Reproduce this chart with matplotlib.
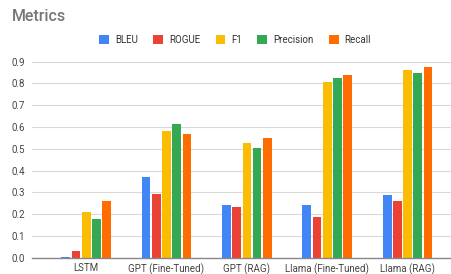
import numpy as np
import matplotlib.pyplot as plt

categories = ['LSTM', 'GPT (Fine-Tuned)', 'GPT (RAG)', 'Llama (Fine-Tuned)', 'Llama (RAG)']
bleu = [0.005, 0.369, 0.240, 0.240, 0.288]
rogue = [0.031, 0.292, 0.234, 0.185, 0.260]
f1 = [0.208, 0.584, 0.527, 0.809, 0.861]
precision = [0.178, 0.616, 0.506, 0.827, 0.850]
recall = [0.259, 0.569, 0.550, 0.838, 0.876]

series = ['BLEU', 'ROGUE', 'F1', 'Precision', 'Recall']
colors = ['#4285F4', '#EA4335', '#FBBC04', '#34A853', '#FF6D01']
yticks = [0.0, 0.1, 0.2, 0.3, 0.4, 0.5, 0.6, 0.7, 0.8, 0.9]

plt.rcParams['font.family'] = ['Roboto', 'DejaVu Sans']

fig = plt.figure(figsize=(4.52, 2.74), dpi=100)
ax = fig.add_axes([0.0708, 0.0595, 0.927, 0.7153])

x = np.arange(len(categories))
pitch = 0.127
width = 0.108
for i, (name, vals) in enumerate(zip(series, [bleu, rogue, f1, precision, recall])):
    ax.bar(x + (i - 2) * pitch, vals, width, color=colors[i], label=name, zorder=3)

ax.set_xlim(-0.674, 4.54)
ax.set_ylim(0, 0.9)
ax.set_yticks(yticks)
ax.set_yticklabels([f'{v:.1f}' for v in yticks])
ax.set_xticks(x)
ax.set_xticklabels(categories)
ax.tick_params(axis='both', length=0, labelsize=7, colors='#444444')
ax.tick_params(axis='y', pad=5)
ax.tick_params(axis='x', pad=4)
ax.grid(axis='y', color='#d9d9d9', linewidth=0.8, zorder=0)
for s in ['top', 'right', 'left']:
    ax.spines[s].set_visible(False)
ax.spines['bottom'].set_color('#888888')
ax.spines['bottom'].set_linewidth(1.0)
ax.spines['bottom'].set_zorder(4)

fig.text(0.026, 0.94, 'Metrics', fontsize=11.5, color='#757575', fontweight='medium', va='center')
fig.legend(loc='center', bbox_to_anchor=(0.52, 0.855), ncol=5, frameon=False,
           fontsize=7, handlelength=1.0, handleheight=1.0, handletextpad=0.6,
           columnspacing=1.6, labelcolor='#333333')

fig.savefig('out.png', dpi=100)
